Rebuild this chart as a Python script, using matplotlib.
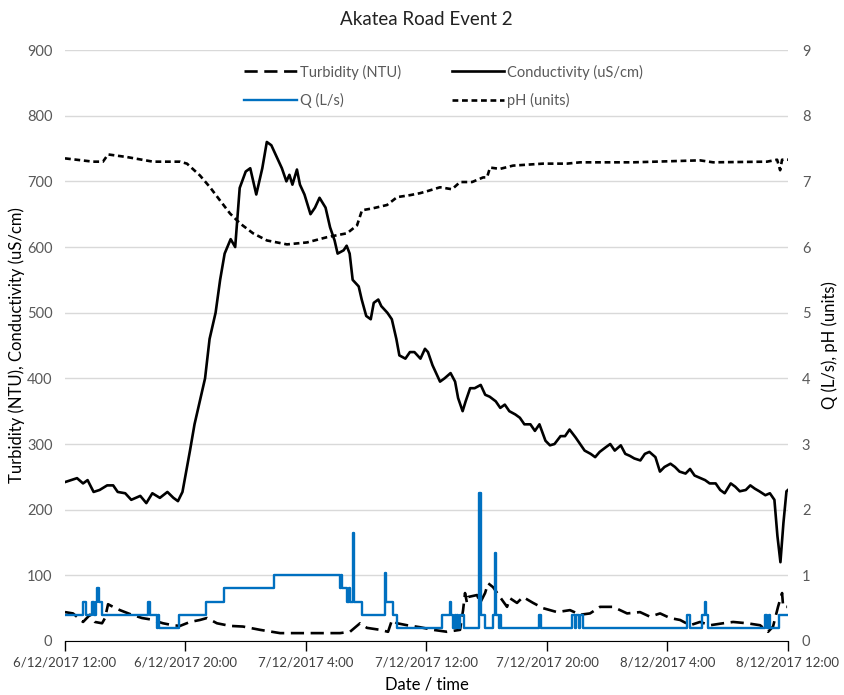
import matplotlib.pyplot as plt
from matplotlib.lines import Line2D

plt.rcParams['font.family'] = ['Lato', 'DejaVu Sans']

# hours since 6/12/2017 12:00
cond_t = [0.0, 0.8, 1.2, 1.5, 1.9, 2.3, 2.8, 3.2, 3.5, 4.0, 4.4, 5.0, 5.4, 5.8, 6.3,
          6.8, 7.2, 7.5, 7.8, 8.3, 8.6, 9.0, 9.3, 9.6, 10.0, 10.3, 10.6, 11.0, 11.3,
          11.6, 12.0, 12.3, 12.7, 13.1, 13.4, 13.7, 14.1, 14.4, 14.7, 14.9, 15.1,
          15.4, 15.6, 15.9, 16.3, 16.6, 16.9, 17.3, 17.6, 17.9, 18.1, 18.5, 18.7,
          18.9, 19.1, 19.5, 19.7, 20.0, 20.3, 20.5, 20.8, 21.0, 21.4, 21.7, 22.0,
          22.2, 22.6, 22.9, 23.2, 23.6, 23.9, 24.1, 24.4, 24.6, 24.9, 25.2, 25.6,
          25.9, 26.1, 26.4, 26.6, 26.9, 27.2, 27.6, 27.9, 28.2, 28.6, 28.9, 29.2,
          29.5, 29.9, 30.2, 30.5, 30.9, 31.2, 31.5, 31.9, 32.2, 32.5, 32.9, 33.2,
          33.5, 33.9, 34.2, 34.5, 34.9, 35.2, 35.5, 35.9, 36.2, 36.5, 36.9, 37.2,
          37.5, 37.8, 38.2, 38.5, 38.8, 39.2, 39.5, 39.8, 40.2, 40.5, 40.8, 41.2,
          41.5, 41.8, 42.2, 42.5, 42.8, 43.2, 43.5, 43.8, 44.2, 44.5, 44.8, 45.2,
          45.5, 45.8, 46.1, 46.5, 46.8, 47.1, 47.3, 47.5, 47.7, 47.9, 48.0]
cond_v = [242, 248, 240, 245, 227, 230, 237, 237, 227, 225, 215, 221, 210, 225, 218,
          227, 218, 213, 227, 290, 330, 370, 400, 460, 500, 550, 590, 612, 600,
          690, 715, 720, 680, 720, 760, 755, 735, 720, 700, 710, 695,
          718, 695, 680, 650, 660, 675, 660, 630, 610, 590, 595, 602,
          590, 550, 540, 520, 495, 490, 515, 520, 510, 500, 490, 460,
          435, 430, 440, 440, 430, 445, 440, 420, 410, 395, 400, 408,
          395, 370, 350, 365, 385, 385, 390, 375, 372, 365, 355, 360,
          350, 345, 340, 330, 330, 320, 330, 305, 298, 300, 312, 312,
          322, 310, 300, 290, 285, 280, 288, 295, 300, 290, 298, 285,
          282, 278, 275, 285, 288, 280, 258, 265, 270, 265, 258, 255,
          262, 252, 248, 245, 240, 240, 230, 225, 240, 235, 228, 230,
          237, 232, 228, 222, 225, 215, 160, 120, 180, 228, 230]

turb_t = [0, 0.53, 1.2, 1.66, 1.99, 2.46, 2.66, 2.86, 3.19, 3.65, 4.32, 5.11, 5.64,
          6.51, 7.17, 7.64, 8.3, 8.96, 9.43, 10.09, 10.96, 11.82, 12.95, 14.28,
          15.6, 16.93, 18.26, 18.92, 19.59, 20.05, 20.92, 21.45, 21.71, 22.05,
          22.71, 23.57, 24.44, 25.37, 26.23, 26.43, 26.56, 26.69, 26.76, 27.36,
          27.56, 27.89, 28.09, 28.42, 28.88, 29.35, 29.55, 30.01, 30.41, 31.08,
          31.74, 32.67, 33.53, 34.2, 34.86, 35.52, 36.39, 37.32, 38.18, 38.84,
          39.51, 40.17, 40.84, 41.5, 42.16, 42.83, 43.69, 44.36, 45.29, 46.15,
          46.68, 47.01, 47.34, 47.61, 47.68, 47.94]
turb_v = [44, 42, 29, 40, 29, 27, 35, 56, 52, 47, 41, 35, 33,
          27, 24, 23, 29, 32, 35, 27, 23, 22, 17, 12,
          12, 12, 12, 14, 27, 20, 17, 14, 32, 27,
          24, 21, 17, 14, 17, 47, 73, 58, 67, 70,
          58, 73, 88, 82, 67, 52, 65, 58, 67, 58,
          50, 44, 47, 40, 42, 52, 52, 42, 44, 37,
          42, 35, 32, 24, 29, 24, 27, 29, 27, 24,
          14, 22, 52, 73, 52, 52]

q_t = [0, 1.2, 1.39, 1.79, 1.93, 2.06, 2.12, 2.29, 2.46, 5.51, 5.64, 6.11, 6.18,
       6.24, 7.57, 9.36, 10.56, 13.88, 18.26, 18.33, 18.39, 18.73, 18.86, 18.92,
       19.09, 19.16, 19.72, 21.25, 21.31, 21.78, 22.05, 25.03, 25.53, 25.6,
       25.76, 25.9, 25.96, 26.03, 26.1, 26.23, 26.46, 27.49, 27.59, 27.89,
       28.42, 28.52, 28.62, 28.82, 28.88, 28.98, 31.47, 31.61, 33.67, 33.86,
       33.93, 34.13, 34.2, 34.4, 41.3, 41.5, 42.3, 42.46, 42.53, 42.7, 46.48,
       46.61, 46.71, 46.81, 47.41, 48.0]
q_v = [0.4, 0.6, 0.4, 0.6, 0.4, 0.6, 0.8, 0.6, 0.4, 0.6, 0.4, 0.2, 0.4,
       0.2, 0.4, 0.6, 0.8, 1.0, 0.8, 1.0, 0.8, 0.6, 0.8, 0.6,
       1.64, 0.6, 0.4, 1.03, 0.6, 0.4, 0.2, 0.4, 0.6, 0.4,
       0.2, 0.4, 0.2, 0.4, 0.2, 0.4, 0.2, 2.25, 0.4, 0.2,
       0.4, 1.34, 0.4, 0.2, 0.4, 0.2, 0.4, 0.2, 0.4, 0.2,
       0.4, 0.2, 0.4, 0.2, 0.4, 0.2, 0.4, 0.6, 0.4, 0.2, 0.4,
       0.2, 0.4, 0.2, 0.4, 0.4]

ph_t = [0, 1.86, 2.52, 2.86, 4.12, 5.84, 7.64, 8.1, 8.96, 9.63, 10.29, 10.96, 11.62,
        12.48, 13.41, 14.74, 16.07, 17.4, 18.73, 19.39, 19.72, 20.45, 21.38, 22.05,
        22.91, 23.57, 24.04, 24.9, 25.7, 26.23, 27.03, 27.76, 28.02, 28.22, 28.88,
        29.75, 31.74, 33.33, 34.2, 37.72, 42.16, 43.03, 46.61, 47.28, 47.48, 47.61,
        47.94, 48.0]
ph_v = [7.35, 7.3, 7.3, 7.41, 7.37, 7.3, 7.3, 7.27, 7.09, 6.91, 6.71, 6.51, 6.36,
        6.21, 6.1, 6.04, 6.07, 6.15, 6.21, 6.33, 6.56, 6.59, 6.64, 6.76,
        6.79, 6.82, 6.85, 6.91, 6.88, 6.99, 6.99, 7.06, 7.06, 7.21, 7.19,
        7.24, 7.27, 7.27, 7.29, 7.29, 7.32, 7.29, 7.3, 7.33, 7.17, 7.33,
        7.33, 7.33]

x_ticks = [0, 8, 16, 24, 32, 40, 48]
x_labels = ['6/12/2017 12:00', '6/12/2017 20:00', '7/12/2017 4:00', '7/12/2017 12:00',
            '7/12/2017 20:00', '8/12/2017 4:00', '8/12/2017 12:00']

fig = plt.figure(figsize=(8.45, 6.95), dpi=100)
ax = fig.add_axes([0.0769, 0.0777, 0.8556, 0.8503])
ax2 = ax.twinx()

ax.plot(turb_t, turb_v, color='black', lw=1.9, dashes=(5, 2.5), zorder=3)
ax.plot(cond_t, cond_v, color='black', lw=1.9, zorder=3)
ax2.plot(q_t, q_v, color='#0070C0', lw=1.7, drawstyle='steps-post')
ax2.plot(ph_t, ph_v, color='black', lw=1.9, dashes=(2.2, 1.4))

ax.set_xlim(0, 48)
ax.set_ylim(0, 900)
ax2.set_ylim(0, 9)
ax.set_yticks(range(0, 901, 100))
ax2.set_yticks(range(0, 10))
ax.set_xticks(x_ticks)
ax.set_xticklabels(x_labels)

ax.grid(axis='y', color='#D9D9D9', lw=1)
ax.set_axisbelow(True)
for a in (ax, ax2):
    for s in ('top', 'left', 'right'):
        a.spines[s].set_visible(False)
    a.spines['bottom'].set_color('black')
ax2.spines['bottom'].set_visible(False)

ax.tick_params(axis='x', direction='out', length=7, width=1, colors='black',
               labelcolor='#404040', labelsize=9.5, pad=4)
ax.tick_params(axis='y', length=0, labelcolor='#595959', labelsize=10.5, pad=9)
ax2.tick_params(axis='y', length=0, labelcolor='#595959', labelsize=10.5, pad=10)

ax.set_xlabel('Date / time', fontsize=12, labelpad=6)
ax.set_ylabel('Turbidity (NTU), Conductivity (uS/cm)', fontsize=12, labelpad=1)
ax2.set_ylabel('Q (L/s), pH (units)', fontsize=12, labelpad=8)
ax.set_title('Akatea Road Event 2', fontsize=13.5, color='#222222', pad=18)

handles = [
    Line2D([], [], color='black', lw=1.9, dashes=(5, 2.5)),
    Line2D([], [], color='#0070C0', lw=1.7),
    Line2D([], [], color='black', lw=1.9),
    Line2D([], [], color='black', lw=1.9, dashes=(2.2, 1.4)),
]
labels = ['Turbidity (NTU)', 'Q (L/s)', 'Conductivity (uS/cm)', 'pH (units)']
leg = ax2.legend(handles, labels, ncol=2, loc='center', bbox_to_anchor=(0.524, 0.939),
                 frameon=False, fontsize=10.5, handlelength=3.6, columnspacing=3.5,
                 labelspacing=0.9, handletextpad=0.2)
for t in leg.get_texts():
    t.set_color('#595959')

fig.savefig('out.png', dpi=100)
